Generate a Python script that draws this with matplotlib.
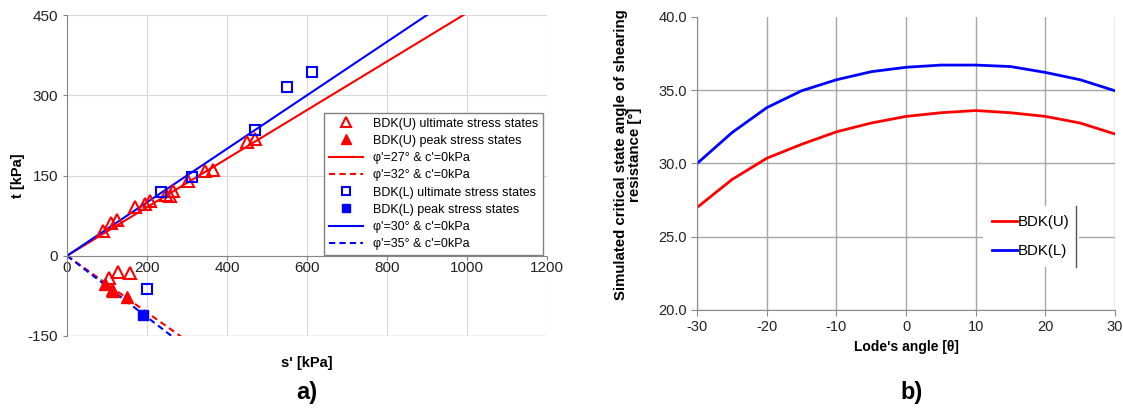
import matplotlib
matplotlib.use('Agg')
import matplotlib.pyplot as plt
from matplotlib.lines import Line2D
import numpy as np

plt.rcParams['font.family'] = ['Liberation Sans', 'DejaVu Sans']
plt.rcParams['axes.unicode_minus'] = False

# --- a) stress paths in s'-t space ---
# BDK(U) ultimate stress states (compression above, extension below zero)
u_ult_s = [91, 110, 126, 170, 195, 207, 247, 257, 266, 303, 345, 364, 449, 471, 105, 128, 157]
u_ult_t = [46, 61, 66, 92, 96, 102, 114, 112, 121, 139, 159, 161, 212, 219, -41, -31, -33]
# BDK(U) peak stress states
u_peak_s = [95, 112, 116, 151]
u_peak_t = [-53, -64, -66, -78]
# BDK(L) ultimate stress states
l_ult_s = [234, 312, 470, 551, 612, 201]
l_ult_t = [119, 147, 235, 316, 344, -63]
# BDK(L) peak stress states
l_peak_s = [191]
l_peak_t = [-111]

# failure envelopes, t = s' sin(phi')
phi_u_ult, phi_u_peak = 27, 32
phi_l_ult, phi_l_peak = 30, 35

# --- b) critical state angle vs Lode's angle ---
lode = [-30, -25, -20, -15, -10, -5, 0, 5, 10, 15, 20, 25, 30]
phi_u = [27.0, 28.9, 30.35, 31.3, 32.15, 32.75, 33.2, 33.45, 33.6, 33.45, 33.2, 32.75, 32.0]
phi_l = [30.0, 32.1, 33.8, 34.95, 35.7, 36.25, 36.55, 36.7, 36.7, 36.6, 36.2, 35.7, 34.95]

RED = '#ff0000'
BLUE = '#0000ff'

fig = plt.figure(figsize=(11.23, 4.09), dpi=100)

ax1 = fig.add_axes([0.0597, 0.1785, 0.4274, 0.7848])
s_line = np.array([0, 1200])
ax1.plot(s_line, s_line * np.sin(np.radians(phi_u_ult)), color=RED, lw=1.5, zorder=2)
ax1.plot(s_line, -s_line * np.sin(np.radians(phi_u_peak)), color=RED, lw=1.5, ls=(0, (3, 2)), zorder=2)
ax1.plot(s_line, s_line * np.sin(np.radians(phi_l_ult)), color=BLUE, lw=1.5, zorder=2)
ax1.plot(s_line, -s_line * np.sin(np.radians(phi_l_peak)), color=BLUE, lw=1.5, ls=(0, (3, 2)), zorder=2)

ax1.plot(u_ult_s, u_ult_t, ls='none', marker='^', ms=8, mfc='none', mec=RED, mew=1.5, zorder=3)
ax1.plot(u_peak_s, u_peak_t, ls='none', marker='^', ms=8, mfc=RED, mec=RED, zorder=3)
ax1.plot(l_ult_s, l_ult_t, ls='none', marker='s', ms=7, mfc='none', mec=BLUE, mew=1.5, zorder=3)
ax1.plot(l_peak_s, l_peak_t, ls='none', marker='s', ms=6.5, mfc=BLUE, mec=BLUE, zorder=3)

ax1.set_xlim(0, 1200)
ax1.set_ylim(-150, 450)
ax1.set_xticks(range(0, 1201, 200))
ax1.set_yticks(range(-150, 451, 150))
ax1.grid(True, color='#d9d9d9', lw=0.8)
ax1.set_axisbelow(True)
for side in ['top', 'right']:
    ax1.spines[side].set_visible(False)
ax1.spines['bottom'].set_position(('data', 0))
ax1.spines['bottom'].set_color('#868686')
ax1.spines['left'].set_color('#868686')
ax1.axhline(-150, color='#c8c8c8', lw=1.0, zorder=1)
ax1.tick_params(axis='both', labelsize=11, length=3, color='#868686', labelcolor='#222222')
ax1.tick_params(axis='x', pad=1)

ax1.set_xlabel("s' [kPa]", fontsize=10.5, fontweight='bold')
ax1.xaxis.set_label_coords(0.5, -0.062)
ax1.set_ylabel('t [kPa]', fontsize=10.5, fontweight='bold')
ax1.yaxis.set_label_coords(-0.088, 0.5)

handles = [
    Line2D([], [], ls='none', marker='^', ms=7, mfc='none', mec=RED, mew=1.5),
    Line2D([], [], ls='none', marker='^', ms=7, mfc=RED, mec=RED),
    Line2D([], [], color=RED, lw=1.5),
    Line2D([], [], color=RED, lw=1.5, ls=(0, (3, 2))),
    Line2D([], [], ls='none', marker='s', ms=6, mfc='none', mec=BLUE, mew=1.5),
    Line2D([], [], ls='none', marker='s', ms=6, mfc=BLUE, mec=BLUE),
    Line2D([], [], color=BLUE, lw=1.5),
    Line2D([], [], color=BLUE, lw=1.5, ls=(0, (3, 2))),
]
labels = [
    'BDK(U) ultimate stress states',
    'BDK(U) peak stress states',
    "φ'=27° & c'=0kPa",
    "φ'=32° & c'=0kPa",
    'BDK(L) ultimate stress states',
    'BDK(L) peak stress states',
    "φ'=30° & c'=0kPa",
    "φ'=35° & c'=0kPa",
]
leg1 = ax1.legend(handles, labels, loc='upper left', bbox_to_anchor=(0.535, 0.696),
                  borderaxespad=0, fontsize=9.0, handlelength=2.7, handletextpad=0.8,
                  labelspacing=0.42, borderpad=0.4, fancybox=False, framealpha=1,
                  edgecolor='#808080')
leg1.get_frame().set_linewidth(1.0)

fig.text(0.273, 0.04, 'a)', fontsize=17, fontweight='bold', ha='center', va='center')

# --- b) ---
ax2 = fig.add_axes([0.6209, 0.2421, 0.3719, 0.7171])
ax2.plot(lode, phi_u, color=RED, lw=2.0, label='BDK(U)')
ax2.plot(lode, phi_l, color=BLUE, lw=2.0, label='BDK(L)')
ax2.set_xlim(-30, 30)
ax2.set_ylim(20, 40)
ax2.set_xticks(range(-30, 31, 10))
ax2.set_yticks(np.arange(20, 40.1, 5))
ax2.yaxis.set_major_formatter(matplotlib.ticker.FormatStrFormatter('%.1f'))
ax2.grid(True, color='#a6a6a6', lw=1.0)
ax2.set_axisbelow(True)
ax2.get_ygridlines()[-1].set_visible(False)
for side in ['top', 'right']:
    ax2.spines[side].set_visible(False)
ax2.spines['left'].set_color('#8c8c8c')
ax2.spines['bottom'].set_color('#8c8c8c')
ax2.tick_params(axis='both', labelsize=10.5, length=4, color='#8c8c8c', labelcolor='#222222')
ax2.set_xlabel("Lode's angle [θ]", fontsize=10, fontweight='bold', labelpad=4)
ax2.set_ylabel('Simulated critical state angle of shearing\nresistance [°]',
               fontsize=10.8, fontweight='bold', linespacing=1.0)
ax2.yaxis.set_label_coords(-0.132, 0.53)

leg2 = ax2.legend(loc='center left', bbox_to_anchor=(0.665, 0.25), fontsize=10.8,
                  handlelength=1.7, handletextpad=0.05, labelspacing=1.0, borderpad=0.6,
                  frameon=True, fancybox=False, framealpha=1, facecolor='white',
                  edgecolor='none')
ax2.add_line(Line2D([0.9067, 0.9067], [0.147, 0.355], transform=ax2.transAxes,
                    color='#555555', lw=1.0, zorder=6))

fig.text(0.812, 0.04, 'b)', fontsize=17, fontweight='bold', ha='center', va='center')

fig.savefig('out.png', dpi=100)
